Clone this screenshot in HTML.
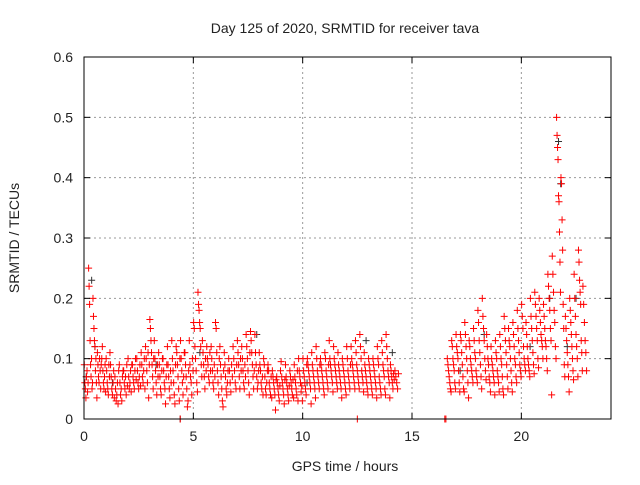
<!DOCTYPE html>
<html><head><meta charset="utf-8"><style>
body{margin:0;background:#fff}
svg text{font-family:"Liberation Sans",sans-serif;font-size:14px;fill:#222}
</style></head><body>
<svg id="chart" width="640" height="480">
<g id="grid"></g>
<g id="marks"></g>
<rect x="84" y="57" width="527" height="362" fill="none" stroke="#000"/>
<g id="axes"></g>
<text x="345" y="33" text-anchor="middle">Day 125 of 2020, SRMTID for receiver tava</text>
<text x="345" y="471" text-anchor="middle">GPS time / hours</text>
<text transform="translate(19,238) rotate(-90)" text-anchor="middle">SRMTID / TECUs</text>
</svg>
<script>
const xTicks=[0,5,10,15,20];
const yTicks=[0,0.1,0.2,0.3,0.4,0.5,0.6];
const yTickLabels=["0","0.1","0.2","0.3","0.4","0.5","0.6"];
const binWidth=0.2;
const earlyStart=0;
const lateStart=16.6;
// red series values, one array per 0.2 h bin, from 0 h
const earlyValues=[
[0.09,0.06,0.05,0.035,0.07,0.08,0.045,0.06],
[0.25,0.22,0.19,0.13,0.09,0.07,0.1,0.05,0.06],
[0.2,0.17,0.15,0.13,0.12,0.08,0.1,0.06,0.035],
[0.11,0.09,0.07,0.06,0.1,0.08,0.05,0.09],
[0.1,0.12,0.08,0.06,0.05,0.07,0.09,0.045],
[0.1,0.08,0.06,0.05,0.04,0.09,0.07,0.11],
[0.09,0.07,0.05,0.04,0.06,0.08,0.035],
[0.07,0.05,0.03,0.04,0.06,0.025,0.08],
[0.09,0.06,0.04,0.05,0.03,0.07,0.08],
[0.08,0.06,0.05,0.07,0.04,0.09,0.055],
[0.1,0.07,0.05,0.06,0.08,0.045,0.09],
[0.09,0.07,0.06,0.05,0.08,0.1,0.065],
[0.1,0.08,0.06,0.05,0.07,0.09,0.055],
[0.11,0.09,0.07,0.06,0.08,0.1,0.05],
[0.12,0.1,0.08,0.06,0.11,0.035,0.09],
[0.165,0.15,0.13,0.11,0.09,0.07,0.05,0.1],
[0.13,0.1,0.08,0.06,0.04,0.09,0.07],
[0.11,0.09,0.07,0.05,0.04,0.08,0.1],
[0.1,0.08,0.06,0.05,0.025,0.07,0.09],
[0.12,0.09,0.07,0.05,0.035,0.08,0.06],
[0.13,0.1,0.08,0.06,0.04,0.025,0.09],
[0.12,0.11,0.09,0.07,0.05,0.03,0.1],
[0.13,0.1,0.08,0.06,0.04,0.07,0.11],
[0.11,0.09,0.07,0.05,0.02,0.03,0.08],
[0.13,0.09,0.07,0.06,0.04,0.1,0.08],
[0.16,0.15,0.12,0.1,0.08,0.06,0.045],
[0.21,0.19,0.18,0.16,0.15,0.12,0.09,0.07],
[0.13,0.11,0.09,0.07,0.05,0.1,0.08],
[0.12,0.1,0.09,0.07,0.06,0.11,0.08],
[0.12,0.1,0.08,0.06,0.05,0.09,0.07],
[0.16,0.15,0.11,0.08,0.06,0.04,0.1],
[0.12,0.09,0.07,0.05,0.03,0.02,0.08],
[0.11,0.09,0.07,0.05,0.04,0.06,0.08],
[0.1,0.08,0.06,0.045,0.09,0.07],
[0.12,0.1,0.08,0.06,0.05,0.09],
[0.13,0.11,0.09,0.07,0.05,0.1,0.08],
[0.12,0.1,0.08,0.06,0.05,0.09,0.07],
[0.14,0.12,0.1,0.08,0.06,0.04,0.11],
[0.145,0.13,0.11,0.09,0.07,0.05,0.08],
[0.14,0.11,0.09,0.07,0.05,0.06,0.08],
[0.11,0.09,0.08,0.06,0.05,0.07,0.04],
[0.1,0.09,0.07,0.05,0.04,0.06,0.08],
[0.09,0.08,0.06,0.05,0.04,0.07,0.035],
[0.08,0.07,0.06,0.05,0.04,0.015,0.065],
[0.07,0.06,0.05,0.04,0.03,0.055,0.08],
[0.095,0.07,0.06,0.05,0.04,0.025,0.065],
[0.09,0.07,0.06,0.05,0.04,0.03,0.055],
[0.08,0.07,0.06,0.05,0.04,0.065,0.035],
[0.09,0.07,0.06,0.05,0.04,0.08,0.03],
[0.1,0.08,0.07,0.06,0.045,0.055,0.03],
[0.1,0.08,0.07,0.06,0.05,0.04,0.09],
[0.1,0.09,0.08,0.07,0.06,0.05,0.025],
[0.11,0.09,0.08,0.07,0.06,0.05,0.035],
[0.12,0.1,0.08,0.07,0.06,0.05,0.09],
[0.1,0.09,0.08,0.07,0.06,0.05,0.04],
[0.11,0.1,0.08,0.07,0.06,0.05,0.09],
[0.13,0.1,0.09,0.08,0.07,0.06,0.045],
[0.12,0.1,0.09,0.08,0.07,0.06,0.05],
[0.11,0.09,0.08,0.07,0.06,0.05,0.035],
[0.1,0.09,0.08,0.07,0.06,0.05,0.04],
[0.12,0.1,0.08,0.07,0.06,0.05,0.09],
[0.12,0.1,0.09,0.08,0.07,0.06,0.05],
[0.13,0.11,0.09,0.08,0.07,0.06,0.05],
[0.14,0.12,0.1,0.08,0.07,0.06,0.045],
[0.11,0.09,0.08,0.07,0.06,0.05,0.04],
[0.1,0.09,0.08,0.07,0.06,0.05,0.04],
[0.1,0.09,0.08,0.07,0.06,0.05,0.035],
[0.12,0.1,0.09,0.07,0.06,0.05,0.04],
[0.13,0.11,0.09,0.08,0.07,0.05,0.04],
[0.14,0.12,0.1,0.08,0.07,0.06,0.035],
[0.09,0.08,0.07,0.06,0.05,0.075,0.065],
[0.08,0.07,0.06,0.05,0.075]
];
// red series values, one array per 0.2 h bin, from 16.6 h
const lateValues=[
[0.1,0.09,0.08,0.07,0.06,0.05,0.045],
[0.13,0.12,0.1,0.09,0.08,0.06,0.05],
[0.14,0.12,0.11,0.1,0.08,0.06,0.045],
[0.14,0.13,0.11,0.09,0.07,0.05,0.045],
[0.16,0.14,0.12,0.1,0.08,0.06,0.035],
[0.13,0.12,0.1,0.09,0.08,0.07,0.06],
[0.15,0.13,0.11,0.1,0.08,0.07,0.06],
[0.18,0.16,0.13,0.11,0.09,0.07,0.05],
[0.2,0.17,0.15,0.13,0.1,0.08,0.065],
[0.14,0.12,0.1,0.09,0.07,0.06,0.045],
[0.12,0.1,0.09,0.08,0.07,0.06,0.04],
[0.13,0.11,0.1,0.08,0.07,0.06,0.045],
[0.14,0.12,0.1,0.09,0.07,0.05,0.04],
[0.17,0.15,0.13,0.11,0.09,0.07,0.05],
[0.15,0.13,0.12,0.1,0.08,0.06,0.045],
[0.16,0.14,0.12,0.1,0.09,0.07,0.06],
[0.18,0.15,0.13,0.11,0.09,0.08,0.07],
[0.19,0.17,0.15,0.12,0.1,0.09,0.08],
[0.16,0.14,0.12,0.1,0.09,0.08,0.07],
[0.2,0.17,0.15,0.13,0.11,0.09,0.075],
[0.21,0.19,0.17,0.15,0.13,0.1,0.085],
[0.2,0.18,0.16,0.14,0.13,0.12,0.1],
[0.19,0.17,0.15,0.13,0.12,0.1,0.08],
[0.24,0.22,0.2,0.18,0.15,0.13,0.04],
[0.27,0.24,0.21,0.18,0.16,0.12,0.1],
[0.5,0.47,0.45,0.43,0.37,0.36,0.31,0.26,0.21],
[0.4,0.39,0.33,0.28,0.19,0.15,0.09,0.07],
[0.17,0.15,0.13,0.11,0.09,0.07,0.045],
[0.2,0.18,0.16,0.14,0.12,0.1,0.08,0.065],
[0.24,0.2,0.17,0.14,0.12,0.1,0.07],
[0.28,0.26,0.23,0.21,0.19,0.13,0.11,0.08],
[0.22,0.19,0.16,0.13,0.11,0.08]
];
// dark-grey series (mostly hidden under red)
const greyTimes=[0.1,0.35,0.5,1.3,3.3,4.4,5.3,7.9,10.2,12.9,14.1,17.2,18.3,20.4,21.3,21.7,21.8,22.1,22.5];
const greyValues=[0.07,0.23,0.12,0.06,0.09,0,0.11,0.14,0.06,0.13,0.11,0.08,0.14,0.12,0.2,0.46,0.39,0.12,0.2];
const zeroTimes=[4.4,12.5,16.5,16.55];

const X0=84,X1=611,Y0=419,Y1=57,XMAX=24.1,YMAX=0.6;
const xs=t=>X0+t/XMAX*(X1-X0);
const ys=v=>Y0-v/YMAX*(Y0-Y1);
const NS="http://www.w3.org/2000/svg";
const grid=document.getElementById('grid'),axes=document.getElementById('axes'),marks=document.getElementById('marks');
function mk(tag,attrs,parent){const e=document.createElementNS(NS,tag);for(const k in attrs)e.setAttribute(k,attrs[k]);parent.appendChild(e);return e;}
xTicks.forEach(t=>{
 const x=xs(t);
 if(t>0){const g=mk('line',{x1:x,x2:x,y1:Y0,y2:Y1,stroke:'#999','stroke-dasharray':'2,3'},grid);
 
 }
 const l=mk('line',{x1:x,x2:x,y1:Y0,y2:Y0-6,stroke:'#000'},axes);
 
 
 const l2=mk('line',{x1:x,x2:x,y1:Y1,y2:Y1+6,stroke:'#000'},axes);
 
 
 const tx=mk('text',{x:x,y:Y0+22,'text-anchor':'middle'},axes);
 tx.textContent=t;
 
 
});
yTicks.forEach((v,i)=>{
 const y=ys(v);
 if(v>0&&v<YMAX){const g=mk('line',{x1:X0,x2:X1,y1:y,y2:y,stroke:'#999','stroke-dasharray':'2,3'},grid);
 
 }
 const l=mk('line',{x1:X0,x2:X0+6,y1:y,y2:y,stroke:'#000'},axes);
 
 
 const l2=mk('line',{x1:X1,x2:X1-6,y1:y,y2:y,stroke:'#000'},axes);
 
 
 const tx=mk('text',{x:X0-11,y:y+5,'text-anchor':'end'},axes);
 tx.textContent=yTickLabels[i];
 
 
});
function plus(t,v,col,name){
 const x=xs(t),y=ys(v);
 const p=mk('path',{d:`M${x-3.5},${y}h7M${x},${y-3.5}v7`,stroke:col,'stroke-width':1,fill:'none'},marks);
 
 
}
greyTimes.forEach((t,i)=>plus(t,greyValues[i],'#333','grey-point'));
function drawBins(start,bins){
 bins.forEach((vals,i)=>{
  const t=start+i*binWidth,n=vals.length;
  vals.forEach((v,j)=>plus(t+binWidth*(j+0.5)/n,v,'#f00','red-point'));
 });
}
drawBins(earlyStart,earlyValues);
drawBins(lateStart,lateValues);
zeroTimes.forEach(t=>plus(t,0,'#f00','red-zero-point'));
</script>
</body></html>
